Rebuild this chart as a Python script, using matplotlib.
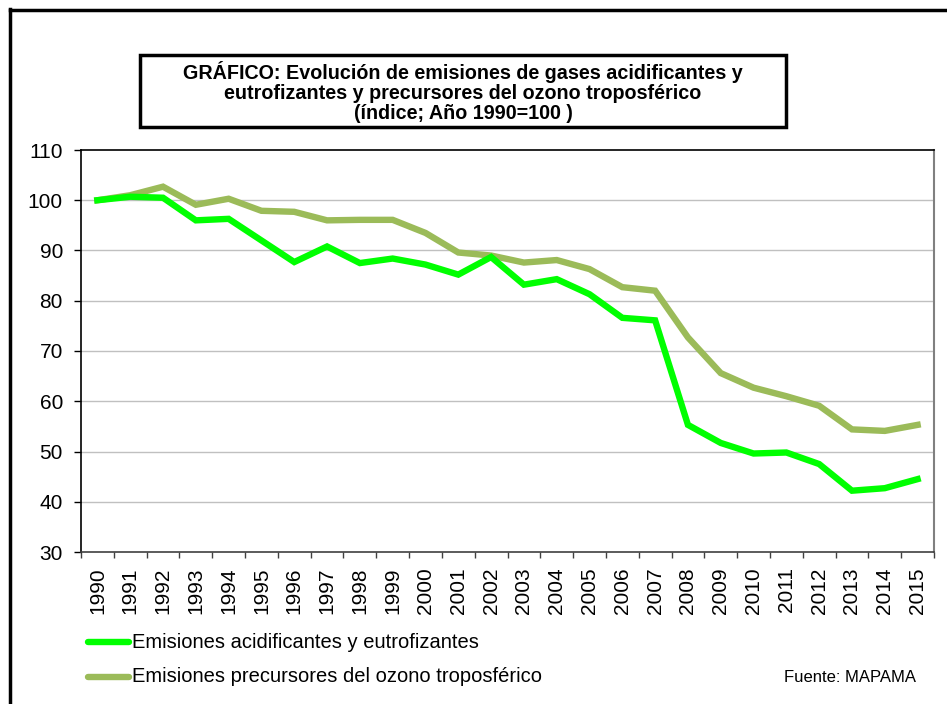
import matplotlib
matplotlib.use("Agg")
import matplotlib.pyplot as plt
from matplotlib.lines import Line2D
from matplotlib.patches import Rectangle

plt.rcParams['font.family'] = ['Liberation Sans', 'DejaVu Sans']

years = [str(y) for y in range(1990, 2016)]
acidificantes = [100, 100.7, 100.5, 96.0, 96.3, 92.0, 87.7, 90.8, 87.5, 88.4,
                 87.2, 85.2, 88.7, 83.2, 84.3, 81.3, 76.6, 76.1, 55.3, 51.7,
                 49.6, 49.8, 47.5, 42.2, 42.7, 44.5]
ozono = [100, 101.0, 102.7, 99.1, 100.3, 97.9, 97.7, 96.0, 96.1, 96.1,
         93.5, 89.6, 89.0, 87.6, 88.1, 86.3, 82.7, 82.0, 72.7, 65.6,
         62.7, 61.0, 59.1, 54.4, 54.1, 55.3]
labels = ["Emisiones acidificantes y eutrofizantes",
          "Emisiones precursores del ozono troposférico"]
colors = ["#00FF00", "#9BBB59"]
title_lines = ["GRÁFICO: Evolución de emisiones de gases acidificantes y",
               "eutrofizantes y precursores del ozono troposférico",
               "(índice; Año 1990=100 )"]

W, H = 947, 704
fig = plt.figure(figsize=(W / 100, H / 100), dpi=100)
fig.patch.set_facecolor("white")

ax = fig.add_axes([81 / W, 1 - 552 / H, (934 - 81) / W, (552 - 150) / H])
x = list(range(len(years)))
ax.plot(x, acidificantes, color=colors[0], lw=4.6, solid_joinstyle='miter', zorder=3)
ax.plot(x, ozono, color=colors[1], lw=4.6, solid_joinstyle='miter', zorder=2)

ax.set_xlim(-0.5, len(years) - 0.5)
ax.set_ylim(30, 110)
ax.set_yticks(range(30, 111, 10))
ax.set_xticks(x)
ax.set_xticklabels(years, rotation=90, fontsize=15)
ax.tick_params(axis='x', which='major', length=0, pad=11)
ax.set_xticks([i - 0.5 for i in range(len(years) + 1)], minor=True)
ax.tick_params(axis='x', which='minor', length=4, width=1, color='#404040')
ax.tick_params(axis='y', length=5, width=1, labelsize=15, pad=8)
for yv in range(40, 110, 10):
    ax.axhline(yv, color='#c0c0c0', lw=1.0, zorder=0)
ax.spines['top'].set_color('black')
ax.spines['top'].set_linewidth(1.2)
ax.spines['right'].set_color('#808080')
ax.spines['right'].set_linewidth(1.5)
ax.spines['left'].set_color('black')
ax.spines['left'].set_linewidth(1.2)
ax.spines['bottom'].set_color('#404040')
ax.spines['bottom'].set_linewidth(1.2)

# legend entries
for i, (lab, col) in enumerate(zip(labels, colors)):
    yy = 1 - (642 + 35 * i) / H
    fig.add_artist(Line2D([88 / W, 129 / W], [yy, yy], color=col, lw=4.6,
                          solid_capstyle='round'))
    fig.text(132 / W, yy, lab, fontsize=14.5, va='center', ha='left')

fig.text(916 / W, 1 - 677 / H, "Fuente: MAPAMA", fontsize=12, ha='right', va='center')

# title box
fig.add_artist(Rectangle((140 / W, 1 - 127 / H), (786 - 140) / W, (127 - 55) / H,
                         fill=False, edgecolor='black', lw=2.5))
for j, line in enumerate(title_lines):
    fig.text(463 / W, 1 - (79 + 20 * j) / H, line, fontsize=14.2, fontweight='bold',
             ha='center', va='baseline')

# outer frame (left and top edges)
fig.add_artist(Line2D([10 / W, 10 / W], [0, 1 - 9 / H], color='black', lw=2.5))
fig.add_artist(Line2D([10 / W, 1], [1 - 10 / H, 1 - 10 / H], color='black', lw=2.5))

fig.savefig("out.png", dpi=100)
